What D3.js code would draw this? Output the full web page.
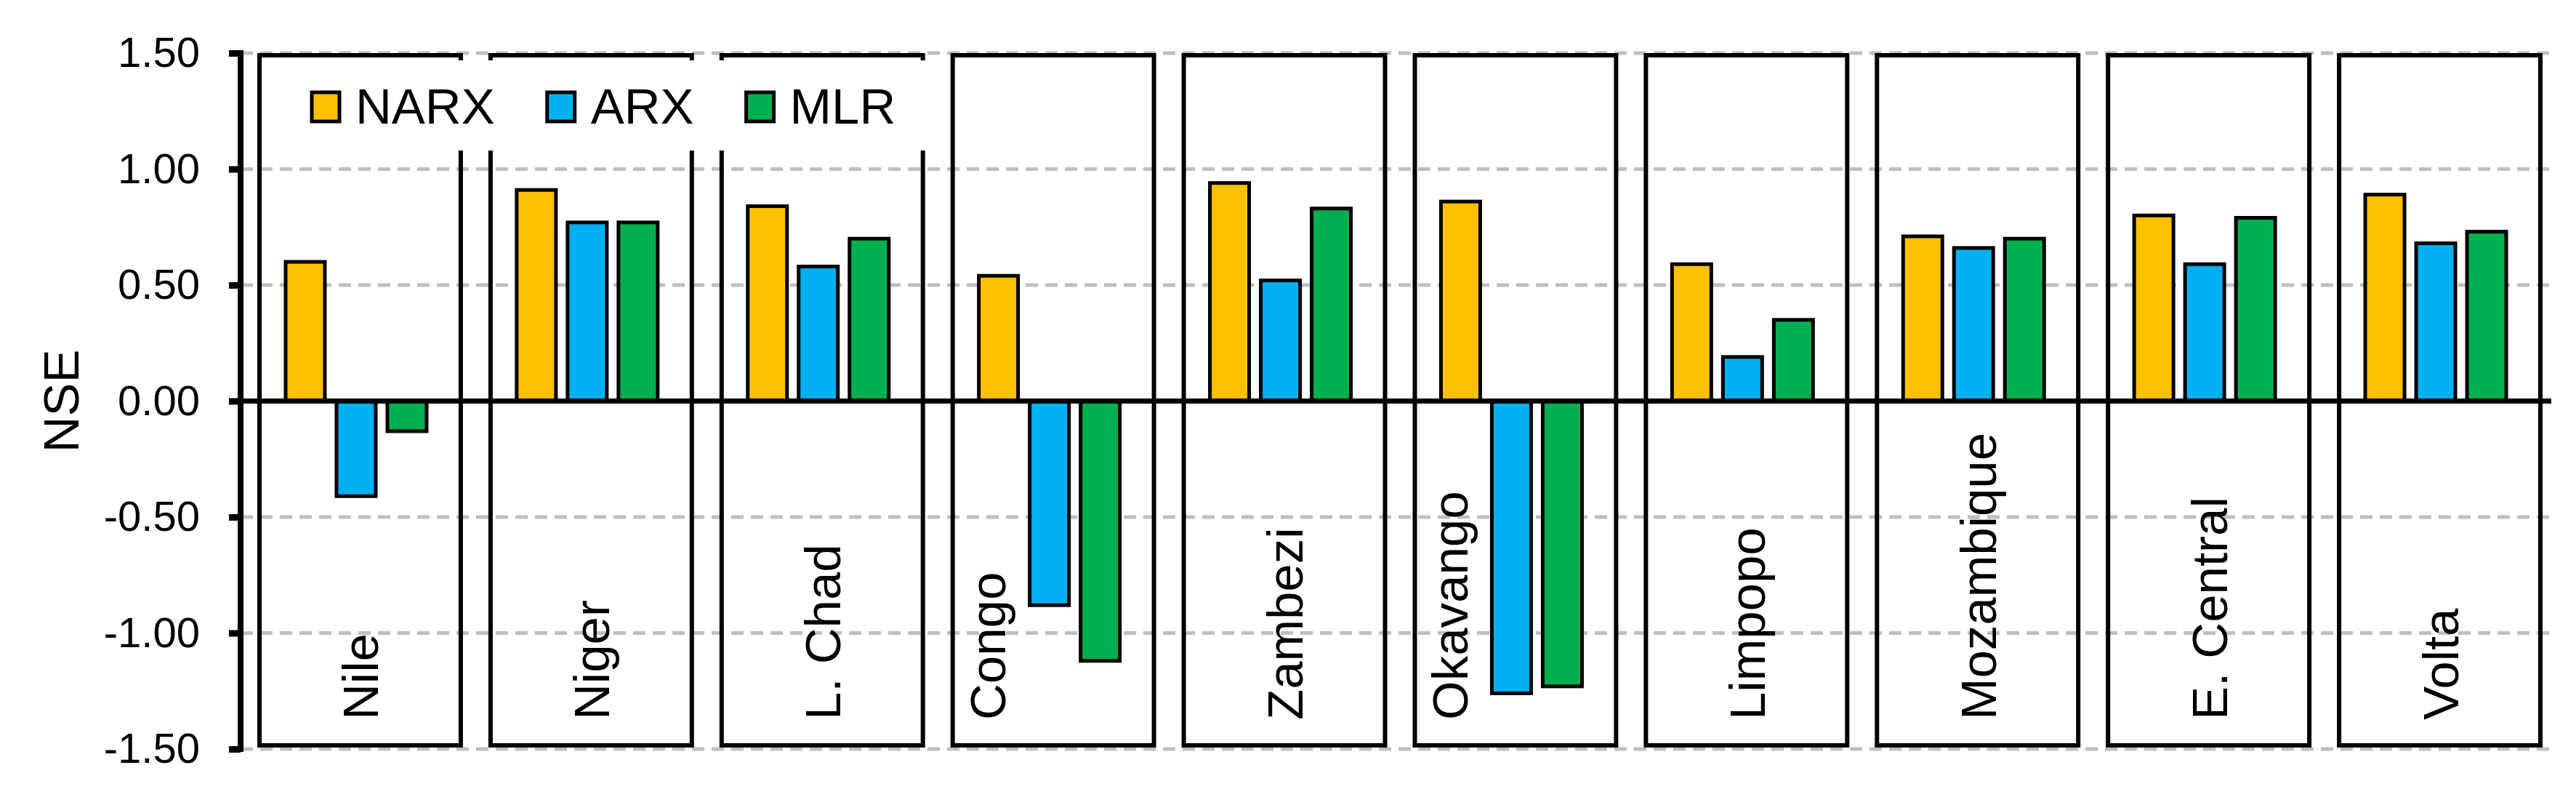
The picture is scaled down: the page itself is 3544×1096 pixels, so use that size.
<!DOCTYPE html>
<html>
<head>
<meta charset="utf-8">
<script src="https://cdn.jsdelivr.net/npm/d3@7"></script>
<style>
  body { margin: 0; background: #fff; }
  svg { display: block; font-family: "Liberation Sans", Arial, sans-serif; }
</style>
</head>
<body>
<div id="graphic"></div>
<script>
var basins = ["Nile", "Niger", "L. Chad", "Congo", "Zambezi", "Okavango", "Limpopo", "Mozambique", "E. Central", "Volta"];
var models = ["NARX", "ARX", "MLR"];
var narx = [0.60, 0.91, 0.84, 0.54, 0.94, 0.86, 0.59, 0.71, 0.80, 0.89];
var arx = [-0.41, 0.77, 0.58, -0.88, 0.52, -1.26, 0.19, 0.66, 0.59, 0.68];
var mlr = [-0.13, 0.77, 0.70, -1.12, 0.83, -1.23, 0.35, 0.70, 0.79, 0.73];
var yTicks = [-1.5, -1.0, -0.5, 0.0, 0.5, 1.0, 1.5];
var colors = ["#FFC000", "#00B0F0", "#00B050"];

var graphic = new Object;

graphic.create = function() {
  var width = 3544, height = 1096;
  var left = 331, right = 3510;
  var values = [narx, arx, mlr];

  var svg = d3.select("#graphic").append("svg")
    .attr("width", width).attr("height", height);
  svg.append("rect").attr("width", width).attr("height", height).attr("fill", "#fff");

  var y = d3.scaleLinear().domain([-1.5, 1.5]).range([1030, 73]);
  var x = d3.scaleBand().domain(basins).range([left, right]);
  var sub = d3.scaleBand().domain(models).range([-97, 97]).paddingInner(0.2286);
  var color = d3.scaleOrdinal().domain(models).range(colors);

  // dashed gridlines
  svg.append("g").selectAll("line").data(yTicks).enter().append("line")
    .attr("x1", left).attr("x2", right)
    .attr("y1", function(d) { return y(d); })
    .attr("y2", function(d) { return y(d); })
    .attr("stroke", "#BFBFBF").attr("stroke-width", 5)
    .attr("stroke-dasharray", "17,10");

  // one framed box per basin
  var step = x.step();
  var panels = svg.append("g").selectAll("g").data(basins).enter().append("g");
  panels.append("rect")
    .attr("x", function(d) { return x(d) + 26; })
    .attr("y", y(1.5) + 3)
    .attr("width", step - 41)
    .attr("height", y(-1.5) - y(1.5) - 8)
    .attr("fill", "none").attr("stroke", "#000").attr("stroke-width", 6);

  // legend sits on top of the first panels
  var legend = svg.append("g");
  legend.append("rect").attr("x", 362).attr("y", 83).attr("width", 928).attr("height", 124).attr("fill", "#fff");
  var lx = 429;
  models.forEach(function(m) {
    legend.append("rect").attr("x", lx).attr("y", 127).attr("width", 38).attr("height", 40)
      .attr("fill", color(m)).attr("stroke", "#000").attr("stroke-width", 5);
    var t = legend.append("text").attr("x", lx + 60).attr("y", 170)
      .attr("font-size", 69).attr("fill", "#000").text(m);
    lx = lx + 60 + t.node().getComputedTextLength() + 72;
  });

  // bars
  var rows = [];
  basins.forEach(function(b, i) {
    models.forEach(function(m, j) {
      rows.push({ basin: b, model: m, value: values[j][i] });
    });
  });
  svg.append("g").selectAll("rect").data(rows).enter().append("rect")
    .attr("x", function(d) { return x(d.basin) + step / 2 + sub(d.model); })
    .attr("width", sub.bandwidth())
    .attr("y", function(d) { return y(Math.max(0, d.value)); })
    .attr("height", function(d) { return Math.abs(y(d.value) - y(0)); })
    .attr("fill", function(d) { return color(d.model); })
    .attr("stroke", "#000").attr("stroke-width", 5);

  // zero line
  svg.append("line").attr("x1", left).attr("x2", right).attr("y1", y(0)).attr("y2", y(0))
    .attr("stroke", "#000").attr("stroke-width", 7);

  // basin names, rotated, at the bottom of each box
  panels.append("text")
    .attr("transform", function(d, i) {
      var low = Math.min(arx[i], mlr[i]) < -0.6;
      var px = low ? x(d) + 26 + 72 : x(d) + 26 + (step - 41) / 2 + 25;
      return "translate(" + px + ",990) rotate(-90)";
    })
    .attr("font-size", 69).attr("fill", "#000")
    .text(function(d) { return d; });

  // y axis
  var axis = svg.append("g").attr("transform", "translate(" + left + ",0)")
    .call(d3.axisLeft(y).tickValues(yTicks).tickSize(16).tickPadding(40)
      .tickFormat(function(d) { return d.toFixed(2); }));
  axis.select(".domain").remove();
  axis.selectAll(".tick line").attr("stroke", "#000").attr("stroke-width", 9);
  axis.selectAll(".tick text").attr("font-size", 58).attr("fill", "#000")
    .attr("font-family", "'Liberation Sans', Arial, sans-serif");
  axis.append("line").attr("x1", 0).attr("x2", 0).attr("y1", y(1.5) - 4).attr("y2", y(-1.5) + 4)
    .attr("stroke", "#000").attr("stroke-width", 8);

  svg.append("text")
    .attr("transform", "translate(108," + y(0) + ") rotate(-90)")
    .attr("text-anchor", "middle").attr("font-size", 69).attr("fill", "#000")
    .text("NSE");
};

graphic.create();
</script>
</body>
</html>
